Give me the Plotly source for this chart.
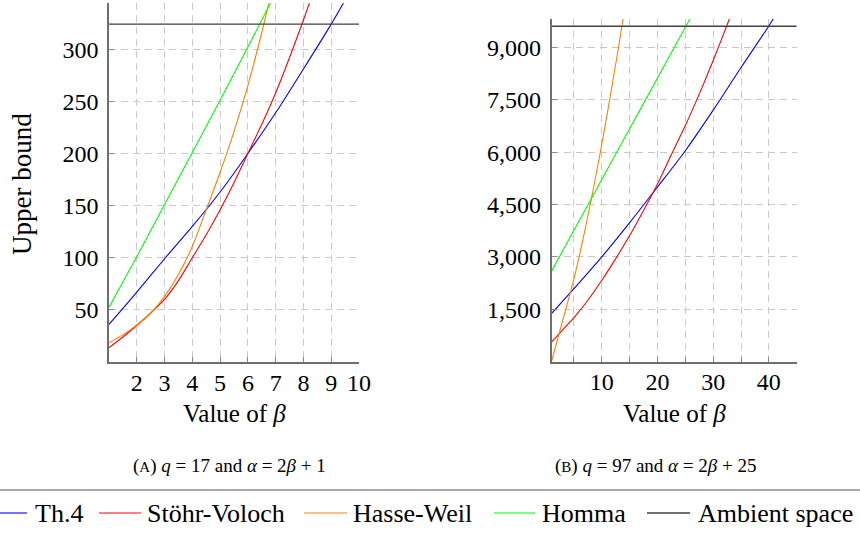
import plotly.graph_objects as go

# ---------------- data ----------------
# Panel A: q = 17, alpha = 2*beta + 1
beta_a_th4 = [1, 2, 3, 4, 5, 6, 7, 8, 9, 9.5]
th4_a = [36, 67, 99, 130, 163, 200, 239, 281, 324, 347]

beta_a_sv = [1, 1.5, 2, 2.5, 3, 3.5, 4, 4.5, 5, 5.5, 6, 6.5, 7, 7.5, 8, 8.5]
sv_a = [13.6, 24, 35, 47, 60, 78, 100, 122, 146, 172, 200, 228, 258, 292, 328, 366]

beta_a_hw = [1, 1.5, 2, 2.5, 3, 3.5, 4, 4.5, 5, 5.5, 6, 6.5, 7]
hw_a = [18.4, 26, 35.5, 47, 63, 84, 111, 146, 182, 221, 265, 316, 372]

beta_a_homma = [1, 2, 3, 4, 5, 6, 7]
homma_a = [52.5, 101, 151, 201, 251, 302, 354]

beta_a_amb = [1, 10]
amb_a = [324, 324]

# Panel B: q = 97, alpha = 2*beta + 25
beta_b_th4 = [1, 5, 10, 15, 20, 25, 30, 35, 40, 41]
th4_b = [1385, 2090, 3000, 3980, 5000, 6040, 7200, 8420, 9610, 9870]

beta_b_sv = [1, 2, 3, 5, 7.5, 10, 12.5, 15, 17.5, 20, 22.5, 25, 27.5, 30, 32.5, 33]
sv_b = [565, 740, 915, 1260, 1760, 2330, 2950, 3610, 4330, 5090, 5930, 6760, 7660, 8620, 9640, 9850]

beta_b_hw = [1, 2, 3, 4, 5, 6, 7, 8, 9, 10, 11, 12, 13, 14]
hw_b = [20, 610, 1190, 1780, 2370, 3060, 3790, 4570, 5380, 6230, 7120, 8050, 9000, 9990]

beta_b_homma = [1, 5, 10, 15, 20, 25, 26]
homma_b = [2600, 3760, 5215, 6670, 8120, 9575, 9865]

beta_b_amb = [1, 45]
amb_b = [9604, 9604]

# ticks
xticks_a = [2, 3, 4, 5, 6, 7, 8, 9, 10]
yticks_a = [50, 100, 150, 200, 250, 300]
xticks_b = [5, 10, 15, 20, 25, 30, 35, 40, 45]
xticktext_b = ["", "10", "", "20", "", "30", "", "40", ""]
yticks_b = [1500, 3000, 4500, 6000, 7500, 9000]

names = ["Th.4", "Stöhr-Voloch", "Hasse-Weil", "Homma", "Ambient space"]
colors = ["#0000ff", "#ff0000", "#ff8000", "#00ff00", "#404040"]

FONT = "Liberation Serif"

fig = go.Figure()

panel_a = [(beta_a_th4, th4_a), (beta_a_sv, sv_a), (beta_a_hw, hw_a),
           (beta_a_homma, homma_a), (beta_a_amb, amb_a)]
panel_b = [(beta_b_th4, th4_b), (beta_b_sv, sv_b), (beta_b_hw, hw_b),
           (beta_b_homma, homma_b), (beta_b_amb, amb_b)]

for i, (x, y) in enumerate(panel_a):
    fig.add_trace(go.Scatter(
        x=x, y=y, mode="lines", name=names[i],
        line=dict(color=colors[i], width=1.4 if i == 4 else 1.1,
                  shape="linear" if i == 4 else "spline", smoothing=0.8),
        xaxis="x", yaxis="y", showlegend=False, hoverinfo="skip"))
for i, (x, y) in enumerate(panel_b):
    fig.add_trace(go.Scatter(
        x=x, y=y, mode="lines", name=names[i],
        line=dict(color=colors[i], width=1.4 if i == 4 else 1.1,
                  shape="linear" if i == 4 else "spline", smoothing=0.8),
        xaxis="x2", yaxis="y2", showlegend=False, hoverinfo="skip"))

W, H = 860, 533

axis_common = dict(
    showline=True, linecolor="#6e6e6e", linewidth=1.6,
    showgrid=True, gridcolor="#c9c9c9", gridwidth=1, griddash="7px,5px",
    zeroline=False, ticks="inside", ticklen=5, tickcolor="#8a8a8a", tickwidth=1.2,
    tickfont=dict(family=FONT, size=24, color="black"),
    automargin=False,
)

fig.update_layout(
    width=W, height=H,
    margin=dict(l=0, r=0, t=0, b=0),
    paper_bgcolor="white", plot_bgcolor="white",
    font=dict(family=FONT, size=24, color="black"),
    xaxis=dict(domain=[109 / W, 359 / W], range=[1, 10], tickvals=xticks_a,
               anchor="y", ticklabelstandoff=-2, **axis_common),
    yaxis=dict(domain=[1 - 362 / H, 1 - 3.3 / H], range=[0, 344], tickvals=yticks_a,
               anchor="x", ticklabelstandoff=4, **axis_common),
    xaxis2=dict(domain=[551.7 / W, 796.7 / W], range=[1, 45], tickvals=xticks_b,
                ticktext=xticktext_b, anchor="y2", ticklabelstandoff=-2, **axis_common),
    yaxis2=dict(domain=[1 - 361.7 / H, 1 - 19 / H], range=[0, 9810], tickvals=yticks_b,
                tickformat=",d", anchor="x2", ticklabelstandoff=4, **axis_common),
    showlegend=False,
)

# separator rule above the legend
fig.add_shape(type="line", xref="paper", yref="paper", x0=0, x1=1,
              y0=1 - 490 / H, y1=1 - 490 / H, line=dict(color="#555555", width=1.2))

# legend (line sample + label), laid out as in the reference
leg_y = 1 - 513 / H
leg_line_x = [(0, 27), (99, 141), (304, 347), (494, 535), (647, 690)]
leg_text_x = [33, 145, 351, 540, 696]
for i in range(5):
    x0, x1 = leg_line_x[i]
    fig.add_shape(type="line", xref="paper", yref="paper", x0=x0 / W, x1=x1 / W,
                  y0=leg_y, y1=leg_y,
                  line=dict(color=colors[i], width=1.4 if i == 4 else 1.1))
    fig.add_annotation(text=names[i], x=leg_text_x[i] / W, y=leg_y, xref="paper", yref="paper",
                       showarrow=False, xanchor="left", yanchor="middle",
                       font=dict(family=FONT, size=26, color="black"))

ann = [
    dict(text="Upper bound", x=22 / W, y=1 - 184 / H, textangle=-90, size=27),
    dict(text="Value of <i>β</i>", x=234 / W, y=1 - 413 / H, textangle=0, size=25),
    dict(text="Value of <i>β</i>", x=674 / W, y=1 - 413 / H, textangle=0, size=25),
    dict(text="(<span style='font-size:15px'>A</span>) <i>q</i> = 17 and <i>α</i> = 2<i>β</i> + 1",
         x=230 / W, y=1 - 466 / H, textangle=0, size=19),
    dict(text="(<span style='font-size:15px'>B</span>) <i>q</i> = 97 and <i>α</i> = 2<i>β</i> + 25",
         x=655 / W, y=1 - 466 / H, textangle=0, size=19),
]
for a in ann:
    fig.add_annotation(text=a["text"], x=a["x"], y=a["y"], xref="paper", yref="paper",
                       showarrow=False, textangle=a["textangle"],
                       xanchor="center", yanchor="middle",
                       font=dict(family=FONT, size=a["size"], color="black"))

fig.write_html("out.html")
